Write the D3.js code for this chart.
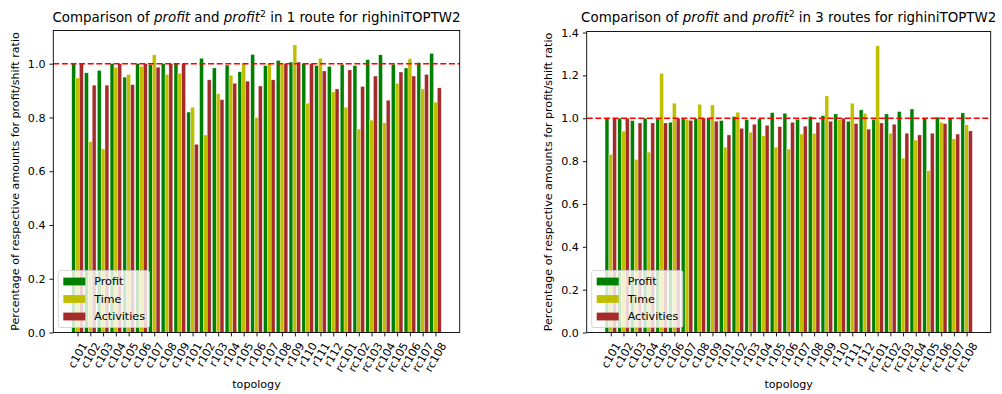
<!DOCTYPE html>
<html><head><meta charset="utf-8">
<script src="https://cdn.jsdelivr.net/npm/d3@7"></script>
<style>
body{margin:0;background:#fff;}
svg{display:block;font-family:"DejaVu Sans",sans-serif;}
</style></head>
<body>
<svg id="chart" width="1002" height="394"></svg>
<script>
const categories = ["c101","c102","c103","c104","c105","c106","c107","c108","c109",
  "r101","r102","r103","r104","r105","r106","r107","r108","r109","r110","r111","r112",
  "rc101","rc102","rc103","rc104","rc105","rc106","rc107","rc108"];
const seriesNames = ["Profit","Time","Activities"];
const seriesColors = ["#008000","#bfbf00","#a52a2a"];

const profit1 = [1.0,0.966,0.975,1.0,0.95,1.0,0.997,1.0,1.0,
  0.82,1.02,0.984,0.995,0.97,1.034,0.993,1.012,1.006,1.0,0.993,0.99,
  0.997,0.993,1.015,1.033,0.998,0.984,1.004,1.038];
const time1 = [0.947,0.71,0.683,0.987,0.96,0.99,1.033,0.96,0.964,
  0.838,0.735,0.888,0.957,1.0,0.80,1.0,1.003,1.07,0.853,1.02,0.895,
  0.838,0.757,0.79,0.78,0.927,1.018,0.906,0.857];
const act1 = [1.0,0.92,0.92,1.0,0.922,1.0,0.987,1.0,1.0,
  0.70,0.94,0.866,0.927,0.935,0.917,0.94,1.0,1.006,1.0,0.973,0.906,
  0.977,0.915,0.954,0.864,0.969,0.954,0.96,0.91];

const profit3 = [1.0,1.0,0.989,1.0,0.997,0.981,0.997,1.0,1.0,
  0.989,1.008,0.994,0.997,1.026,1.023,0.995,1.008,1.012,1.02,0.986,1.039,
  0.995,1.02,1.031,1.043,1.0,1.005,1.0,1.025];
const time3 = [0.831,0.94,0.808,0.842,1.209,1.07,0.994,1.065,1.062,
  0.865,1.028,0.935,0.918,0.865,0.856,0.926,0.93,1.104,0.994,1.07,1.023,
  1.338,0.93,0.814,0.898,0.755,0.981,0.904,0.97];
const act3 = [1.0,1.0,0.978,0.978,0.978,1.0,0.99,1.0,0.986,
  0.922,0.953,0.972,0.967,0.961,0.981,0.963,0.981,0.986,1.0,0.975,0.949,
  0.978,0.972,0.93,0.922,0.93,0.975,0.926,0.941];

const yTicks1 = [0,0.2,0.4,0.6,0.8,1.0];
const yTicks3 = [0,0.2,0.4,0.6,0.8,1.0,1.2,1.4];
const titleRoutes1 = "1 route";
const titleRoutes3 = "3 routes";
const yLabel = "Percentage of respective amounts for profit/shift ratio";
const xLabel = "topology";

const svg = d3.select("#chart");
const barW = 0.3;
const FS = 11.1, TFS = 13.4, TL = 3.9;

function panel(opts){
  const {left, right, top, bottom, series, yTicks, routes} = opts;
  const g = svg.append("g");
  const n = categories.length;
  const lo = -barW*1.5, hi = (n-1) + barW*1.5, span = hi - lo;
  const x = d3.scaleLinear().domain([lo - span*0.05, hi + span*0.05]).range([left, right]);
  const ymax = d3.max(series.flat()) * 1.05;
  const y = d3.scaleLinear().domain([0, ymax]).range([bottom, top]);

  series.forEach((vals, si) => {
    g.append("g").selectAll("rect").data(vals).join("rect")
      .attr("x", (d,i) => x(i + (si-1)*barW - barW/2))
      .attr("width", x(barW) - x(0))
      .attr("y", d => y(d))
      .attr("height", d => y(0) - y(d))
      .attr("fill", seriesColors[si])
      .attr("stroke", "#fff").attr("stroke-width", 0.5).attr("stroke-opacity", 0.6);
  });

  g.append("line").attr("x1", left).attr("x2", right)
    .attr("y1", y(1)).attr("y2", y(1))
    .attr("stroke", "#ff0000").attr("stroke-width", 1.6)
    .attr("stroke-dasharray", "6,2.6");

  g.append("rect").attr("x", left).attr("y", top).attr("width", right-left).attr("height", bottom-top)
    .attr("fill", "none").attr("stroke", "#000").attr("stroke-width", 0.9);

  const yAxis = d3.axisLeft(y).tickValues(yTicks).tickFormat(d3.format(".1f")).tickSize(TL).tickPadding(TL);
  const ya = g.append("g").attr("transform", `translate(${left},0)`).call(yAxis);
  ya.select(".domain").remove();
  ya.selectAll("text").attr("font-size", FS).attr("fill", "#000").attr("font-family", "DejaVu Sans");
  ya.selectAll("line").attr("stroke", "#000").attr("stroke-width", 0.9);

  const xAxis = d3.axisBottom(x).tickValues(d3.range(n)).tickFormat(i => categories[i]).tickSize(TL).tickPadding(TL);
  const xa = g.append("g").attr("transform", `translate(0,${bottom})`).call(xAxis);
  xa.select(".domain").remove();
  xa.selectAll("line").attr("stroke", "#000").attr("stroke-width", 0.9);
  xa.selectAll("text").attr("font-size", FS).attr("fill", "#000").attr("font-family", "DejaVu Sans")
    .each(function(i){
      const t = d3.select(this);
      const w = this.getComputedTextLength();
      const h = FS*1.16;
      const a = Math.PI/3;
      const bh = w*Math.sin(a) + h*Math.cos(a);
      const cy = 2*TL + bh/2;
      t.attr("y", null).attr("dy", null)
        .attr("text-anchor", "middle").attr("dominant-baseline", "central")
        .attr("transform", `translate(0,${cy}) rotate(-60)`);
    });

  g.append("text").attr("x", (left+right)/2).attr("y", 388).attr("text-anchor", "middle")
    .attr("font-size", FS).text(xLabel);
  g.append("text").attr("transform", `translate(${left-38},${(top+bottom)/2}) rotate(-90)`)
    .attr("text-anchor", "middle").attr("dominant-baseline", "central")
    .attr("font-size", FS).text(yLabel);

  const tt = g.append("text").attr("x", (left+right)/2).attr("y", 22).attr("text-anchor", "middle").attr("font-size", TFS);
  tt.append("tspan").text("Comparison of ");
  tt.append("tspan").attr("font-style", "italic").text("profit");
  tt.append("tspan").text(" and ");
  tt.append("tspan").attr("font-style", "italic").text("profit");
  tt.append("tspan").attr("font-size", TFS*0.7).attr("dy", -5).text("2");
  tt.append("tspan").attr("dy", 5).text(" in " + routes + " for righiniTOPTW2");

  const lg = g.append("g");
  const lx = left + 5, lbottom = bottom - 5;
  const rowH = 17.5;
  const lh = 57;
  const box = lg.append("rect").attr("x", lx).attr("y", lbottom - lh)
    .attr("rx", 2).attr("ry", 2)
    .attr("fill", "#fff").attr("fill-opacity", 0.8)
    .attr("stroke", "#cccccc").attr("stroke-width", 0.8);
  let maxW = 0;
  seriesNames.forEach((nm, k) => {
    const cy = lbottom - lh + 11 + k*rowH;
    lg.append("rect").attr("x", lx + 5).attr("y", cy - 3.9).attr("width", 22).attr("height", 7.8)
      .attr("fill", seriesColors[k]);
    const t = lg.append("text").attr("x", lx + 5 + 22 + 9).attr("y", cy)
      .attr("dominant-baseline", "central").attr("font-size", FS).text(nm);
    maxW = Math.max(maxW, t.node().getComputedTextLength());
  });
  box.attr("width", 5 + 22 + 9 + maxW + 4.5).attr("height", lh);
}

panel({left:53.3, right:459.7, top:30.5, bottom:332.5,
  series:[profit1, time1, act1], yTicks:yTicks1, routes:titleRoutes1});
panel({left:586.7, right:990.7, top:31.5, bottom:332.5,
  series:[profit3, time3, act3], yTicks:yTicks3, routes:titleRoutes3});
</script>
</body></html>
